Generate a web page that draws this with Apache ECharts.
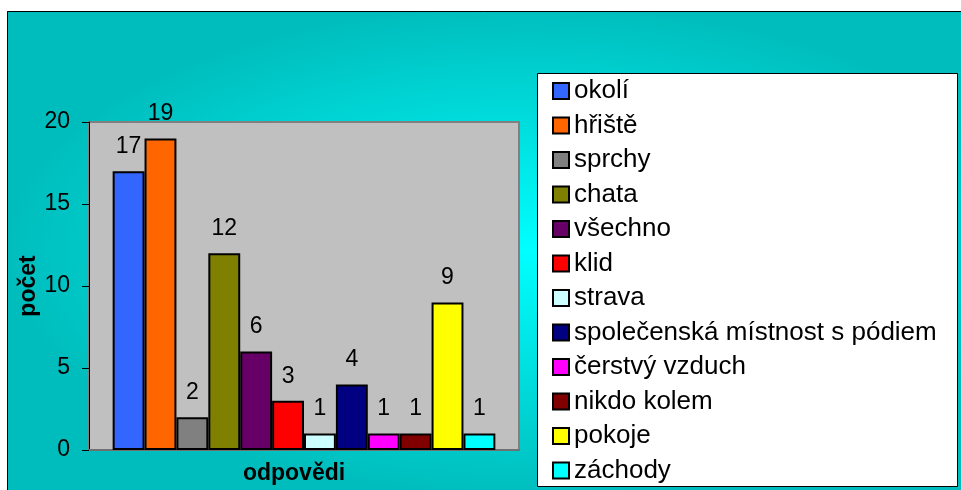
<!DOCTYPE html>
<html>
<head>
<meta charset="utf-8">
<script src="https://cdn.jsdelivr.net/npm/echarts@6/dist/echarts.min.js"></script>
<style>
html,body{margin:0;padding:0;background:#fff;}
#chart{width:961px;height:490px;}
</style>
</head>
<body>
<div id="chart"></div>
<script>
const categories = ['odpovědi'];
const seriesNames = ['okolí','hřiště','sprchy','chata','všechno','klid','strava','společenská místnost s pódiem','čerstvý vzduch','nikdo kolem','pokoje','záchody'];
const seriesValues = [17,19,2,12,6,3,1,4,1,1,9,1];
const seriesColors = ['#3366FF','#FF6600','#808080','#808000','#660066','#FF0000','#CCFFFF','#000080','#FF00FF','#800000','#FFFF00','#00FFFF'];
const yTicks = [0,5,10,15,20];
const yAxisTitle = 'počet';

const FONT = '"Liberation Sans", Arial, sans-serif';
const chart = echarts.init(document.getElementById('chart'), null, {renderer:'canvas'});

// background frame with elliptical gradient
const cx = 525, cy = 250, ry = 245, sx = 520/245;
const series = seriesNames.map((name, i) => ({
  name: name,
  type: 'bar',
  data: [seriesValues[i]],
  barGap: '0%',
  barCategoryGap: '11%',
  itemStyle: {color: seriesColors[i], borderColor: '#000', borderWidth: 2},
  label: {show: true, position: 'top', distance: 13, color: '#000', fontSize: 23, fontFamily: FONT},
  emphasis: {disabled: true}
}));

chart.setOption({
  animation: false,
  backgroundColor: '#fff',
  graphic: [
    {
      type: 'rect', z: -20, silent: true,
      x: cx, y: cy, scaleX: sx, scaleY: 1,
      shape: {x: (7 - cx)/sx, y: 11 - cy, width: (961 - 7)/sx, height: 490 - 11},
      style: {
        fill: {type: 'radial', x: 0, y: 0, r: ry, global: true,
          colorStops: [{offset: 0, color: '#00FFFF'}, {offset: 1, color: '#00BDBD'}]}
      }
    },
    {
      type: 'rect', z: -15, silent: true,
      shape: {x: 7.5, y: 11.5, width: 1000, height: 500},
      style: {fill: null, stroke: '#000', lineWidth: 1}
    },
    {
      type: 'rect', z: -10, silent: true,
      shape: {x: 537.5, y: 73.5, width: 420, height: 413},
      style: {fill: '#fff', stroke: '#000', lineWidth: 1}
    }
  ],
  grid: {
    left: 89, right: 442, top: 122, bottom: 40,
    show: true, backgroundColor: '#C0C0C0', borderColor: '#808080', borderWidth: 2
  },
  legend: {
    orient: 'vertical',
    left: 552, top: 78,
    padding: 0,
    itemWidth: 16, itemHeight: 16,
    itemGap: 8.5,
    itemTextGap: 7,
    icon: 'rect',
    selectedMode: false,
    data: seriesNames,
    textStyle: {fontSize: 26, lineHeight: 26, color: '#000', fontFamily: FONT}
  },
  xAxis: {
    type: 'category',
    data: categories,
    name: categories[0],
    nameLocation: 'middle',
    nameGap: 12,
    nameTextStyle: {fontSize: 23, fontWeight: 'bold', color: '#000', fontFamily: FONT, padding: [0, 20, 0, 0]},
    axisLine: {show: true, lineStyle: {color: '#707070', width: 2}},
    axisTick: {show: false},
    axisLabel: {show: false}
  },
  yAxis: {
    type: 'value',
    min: yTicks[0], max: yTicks[yTicks.length-1], interval: 5,
    name: yAxisTitle,
    nameLocation: 'middle',
    nameGap: 48,
    nameTextStyle: {fontSize: 23, fontWeight: 'bold', color: '#000', fontFamily: FONT},
    axisLine: {show: true, lineStyle: {color: '#000', width: 1}},
    axisTick: {show: true, inside: false, length: 7, lineStyle: {color: '#000'}},
    axisLabel: {fontSize: 23, color: '#000', margin: 19, fontFamily: FONT},
    splitLine: {show: false}
  },
  series: series
});
</script>
</body>
</html>
